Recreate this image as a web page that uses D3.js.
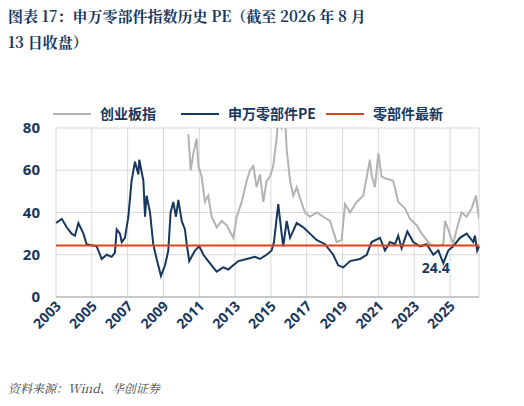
<!DOCTYPE html><html><head><meta charset="utf-8"><script src="https://cdn.jsdelivr.net/npm/d3@7"></script>
<style>body{margin:0;background:#fff}</style></head><body><svg id="c" width="524" height="406"></svg><script>
const yTicks=[0,20,40,60,80];
const xTickYears=[2003,2005,2007,2009,2011,2013,2015,2017,2019,2021,2023,2025];
const latest=24.4;
const swYears=[0,0.32,0.6,0.87,1.06,1.25,1.53,1.71,2.27,2.46,2.55,2.83,3.11,3.29,3.39,3.57,3.67,3.85,4.04,4.22,4.41,4.6,4.65,4.88,4.97,5.06,5.25,5.43,5.62,5.77,5.86,6.09,6.27,6.4,6.55,6.7,6.83,7.02,7.2,7.3,7.44,7.76,8.0,8.23,8.5,8.78,8.97,9.34,9.62,9.9,10.18,10.65,11.11,11.39,11.76,12.04,12.17,12.41,12.6,12.69,12.88,13.07,13.44,13.81,14.18,14.55,15.02,15.48,15.76,16.04,16.42,16.97,17.35,17.62,18.09,18.37,18.65,18.93,19.11,19.3,19.62,19.95,20.32,20.7,21.07,21.35,21.63,21.9,22.18,22.56,22.93,23.3,23.39,23.52,23.62];
const swPE=[35,37,33,30,29,35,30,25,24,20,18,20,19,21,32,30,26,28,38,55,64,58,65,55,38,48,40,25,18,13,10,15,22,40,45,38,46,36,32,25,17,22,24,20,17,14,12,14,13,15,17,18,19,18,20,22,26,44,30,24,36,28,35,33,30,27,25,20,15,14,17,18,20,26,28,22,26,25,29,23,31,26,24,25,20,22,16,22,24,28,30,26,29,22,24];
const cybYears=[7.39,7.52,7.67,7.85,7.95,8.13,8.32,8.5,8.69,8.97,9.25,9.53,9.9,10.09,10.37,10.65,10.83,11.02,11.2,11.39,11.58,11.76,11.95,12.13,12.32,12.41,12.6,12.79,12.88,13.07,13.25,13.44,13.62,13.9,14.18,14.55,14.93,15.3,15.67,15.95,16.14,16.42,16.79,17.16,17.53,17.62,17.81,18.0,18.18,18.46,18.83,19.11,19.49,19.77,20.14,20.42,20.88,21.25,21.63,21.72,21.9,22.18,22.37,22.65,22.93,23.21,23.45,23.62];
const cybPE=[77,60,68,75,62,57,45,48,38,33,36,34,28,38,45,55,60,62,52,58,45,55,57,62,75,85,80,85,70,55,48,52,47,40,38,40,38,36,26,27,44,40,45,48,65,58,52,68,57,56,55,45,42,37,34,30,25,24,25,36,32,25,32,40,38,42,48,37];
const navy="#17375e",grey="#b3b3b3",red="#d9451c";
const svg=d3.select("#c");
const x=d3.scaleLinear().domain([2003,2026.62]).range([56,479]);
const y=d3.scaleLinear().domain([0,80]).range([297,128]);
svg.append("text").attr("x",8).attr("y",22).attr("fill",navy).attr("font-family","Noto Serif CJK SC, Noto Sans CJK SC, serif").attr("font-weight","bold").attr("font-size",15).text("图表 17：申万零部件指数历史 PE（截至 2026 年 8 月");
svg.append("text").attr("x",8).attr("y",48).attr("fill",navy).attr("font-family","Noto Serif CJK SC, Noto Sans CJK SC, serif").attr("font-weight","bold").attr("font-size",15).text("13 日收盘）");
const g=svg.append("g");
g.selectAll(".hg").data(yTicks).join("line").attr("x1",56).attr("x2",479).attr("y1",d=>y(d)).attr("y2",d=>y(d)).attr("stroke","#d9d9d9").attr("stroke-width",1);
g.selectAll(".vg").data(xTickYears.concat([2026.62])).join("line").attr("x1",d=>x(d)).attr("x2",d=>x(d)).attr("y1",128).attr("y2",297).attr("stroke","#d9d9d9");
g.append("line").attr("x1",56).attr("x2",479).attr("y1",297).attr("y2",297).attr("stroke","#a6a6a6");
g.selectAll(".yl").data(yTicks).join("text").attr("x",40).attr("y",d=>y(d)+5).attr("text-anchor","end").attr("fill",navy).attr("font-family","Open Sans, sans-serif").attr("font-weight","bold").attr("font-size",15).text(d=>d);
g.selectAll(".xl").data(xTickYears).join("text").attr("transform",d=>`translate(${x(d)+6},${307}) rotate(-45)`).attr("text-anchor","end").attr("fill",navy).attr("font-family","Open Sans, sans-serif").attr("font-weight","bold").attr("font-size",14).text(d=>d);
svg.append("clipPath").attr("id","cp").append("rect").attr("x",56).attr("y",128).attr("width",423).attr("height",169);
const line=d3.line().x(d=>x(2003+d[0])).y(d=>y(d[1]));
g.append("path").attr("clip-path","url(#cp)").attr("d",line(cybYears.map((t,i)=>[t,cybPE[i]]))).attr("fill","none").attr("stroke",grey).attr("stroke-width",2);
g.append("path").attr("d",line(swYears.map((t,i)=>[t,swPE[i]]))).attr("fill","none").attr("stroke",navy).attr("stroke-width",2);
g.append("line").attr("x1",56).attr("x2",479).attr("y1",y(latest)).attr("y2",y(latest)).attr("stroke",red).attr("stroke-width",2);
g.append("text").attr("x",x(2024.2)).attr("y",y(latest)+28).attr("text-anchor","middle").attr("fill",navy).attr("font-family","Open Sans, sans-serif").attr("font-weight","bold").attr("font-size",14).text(latest);
const leg=[["创业板指",grey,53],["申万零部件PE",navy,181],["零部件最新",red,326]];
leg.forEach(([t,c,lx])=>{svg.append("line").attr("x1",lx).attr("x2",lx+38).attr("y1",114).attr("y2",114).attr("stroke",c).attr("stroke-width",2);
svg.append("text").attr("x",lx+47).attr("y",119).attr("fill",navy).attr("font-family","Noto Sans CJK SC, sans-serif").attr("font-weight","bold").attr("font-size",14).text(t);});
svg.append("text").attr("x",8).attr("y",393).attr("fill","#404040").attr("font-family","Noto Serif CJK SC, Noto Sans CJK SC, serif").attr("font-style","italic").attr("font-size",12).text("资料来源：Wind、华创证券");
</script></body></html>
